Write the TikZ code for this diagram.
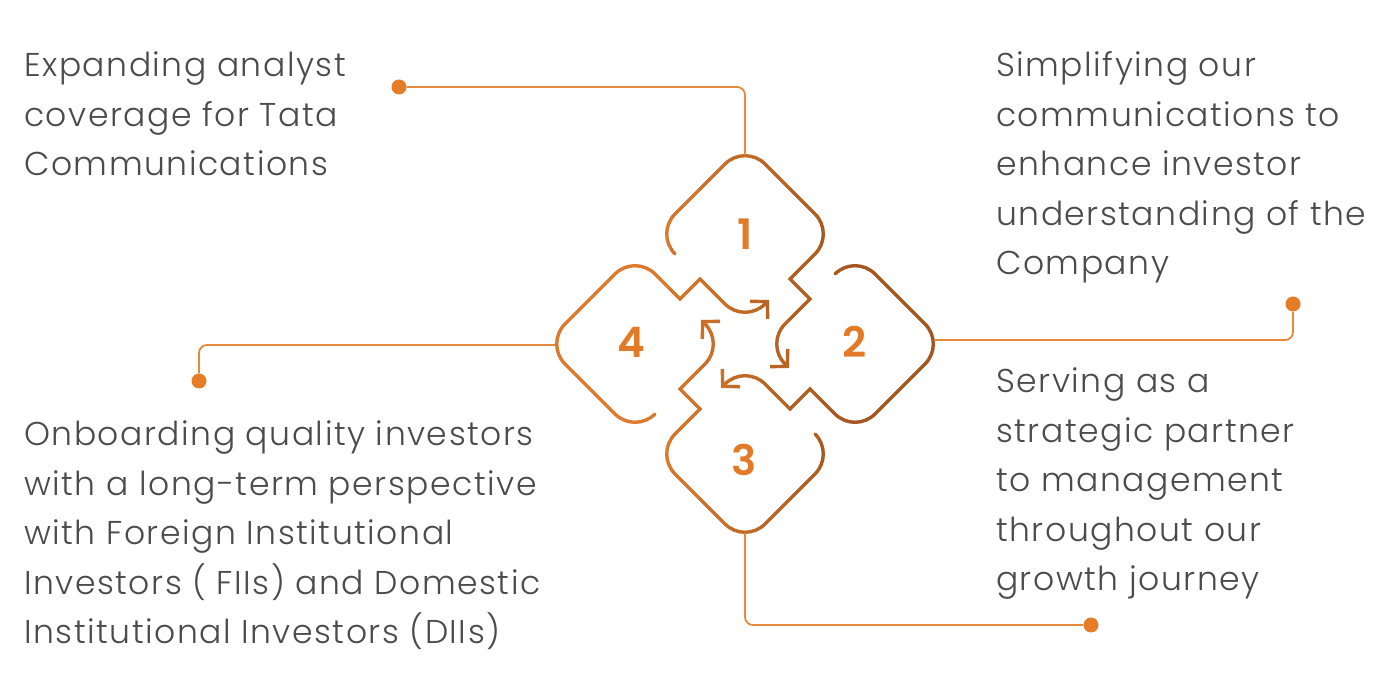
\documentclass[tikz,border=0pt]{standalone}
\usepackage{fontspec}
\IfFontExistsTF{Poppins Light}
    {\setmainfont{Poppins Light}[LetterSpace=4.6]}
    {\setmainfont{Poppins}[LetterSpace=4.6]}
\IfFontExistsTF{Poppins SemiBold}
    {\newfontfamily\numfont{Poppins SemiBold}}
    {\newfontfamily\numfont{Poppins}[UprightFont=*, UprightFeatures={FakeBold=1.5}]}
\usepackage{xcolor}
\usepackage{tikz}
\usetikzlibrary{arrows.meta}

\definecolor{txtgray}{HTML}{4B4B4D}
\definecolor{leadorange}{HTML}{E8893A}
\definecolor{dotorange}{HTML}{E67C28}
\definecolor{shapeorange}{HTML}{DC7B2D}
\definecolor{shapebrown}{HTML}{A3561E}
\definecolor{numorange}{HTML}{E27A27}

% one of the four interlocking pieces, around (0,0)
\newcommand{\piecepath}{%
  (-70,90) arc[start angle=225, end angle=135, radius=28.28pt]
  -- (-20,180) arc[start angle=135, end angle=45, radius=28.28pt]
  -- (70,130) arc[start angle=45, end angle=-45, radius=28.28pt]
  -- (45,65) -- (65,45)
  -- (40,20) arc[start angle=135, end angle=225, radius=28.28pt]
  -- (44,-24)}

\begin{document}
\begin{tikzpicture}[
    x=1pt, y=1pt,
    every node/.style={inner sep=0pt},
    piece/.style={
        line width=3.4pt,
        line cap=round,
        -{Straight Barb[length=12pt, width=25pt]}
    },
    leader/.style={
        draw=leadorange,
        line width=1.8pt,
        rounded corners=8pt
    },
    dot/.style={
        circle,
        fill=dotorange,
        minimum size=15pt
    },
    desc/.style={
        anchor=north west,
        align=left,
        text=txtgray,
        font=\fontsize{33}{49.5}\selectfont
    },
    numlbl/.style={
        text=numorange,
        font=\fontsize{42}{42}\numfont
    }
]
\useasboundingbox (0,0) rectangle (1396,700);

% Pieces, in strips going from orange (left) to brown (right)
\foreach \i in {0,...,12} {
    \pgfmathtruncatemacro{\p}{max(0,min(100,(565+30*\i-650)/2))}
    \begin{scope}
        \clip (550+30*\i,150) rectangle (580+30*\i,560);
        \foreach \k in {0,...,3}
            \draw[piece, color=shapebrown!\p!shapeorange,
                  shift={(745,356)}, rotate=-90*\k] \piecepath;
    \end{scope}
}

\node (n1) [numlbl] at (745,466) {1};
\node (n2) [numlbl] at (855,358) {2};
\node (n3) [numlbl] at (744,240) {3};
\node (n4) [numlbl] at (631,358) {4};

\coordinate (tip1) at (745,545);
\coordinate (tip2) at (935,360);
\coordinate (tip3) at (745,167);
\coordinate (tip4) at (555,355);

\node (dot1) [dot] at (399,613) {};
\node (dot2) [dot] at (1293,396) {};
\node (dot3) [dot] at (1091,75) {};
\node (dot4) [dot] at (199,319) {};

\node (coverage) [desc] at (24,658)
    {\strut Expanding analyst\\coverage for Tata\\Communications};
\node (simplify) [desc] at (996,658)
    {\strut Simplifying our\\communications to\\enhance investor\\understanding of the\\Company};
\node (partner) [desc] at (996,342)
    {\strut Serving as a\\strategic partner\\to management\\throughout our\\growth journey};
\node (onboard) [desc] at (24,289)
    {\strut Onboarding quality investors\\with a long-term perspective\\with Foreign Institutional\\Investors ( FIIs) and Domestic\\Institutional Investors (DIIs)};

% Leaders
\draw[leader] (tip1) |- (dot1);
\draw[leader] (tip2) -| (dot2);
\draw[leader] (tip3) |- (dot3);
\draw[leader] (tip4) -| (dot4);

\end{tikzpicture}
\end{document}
